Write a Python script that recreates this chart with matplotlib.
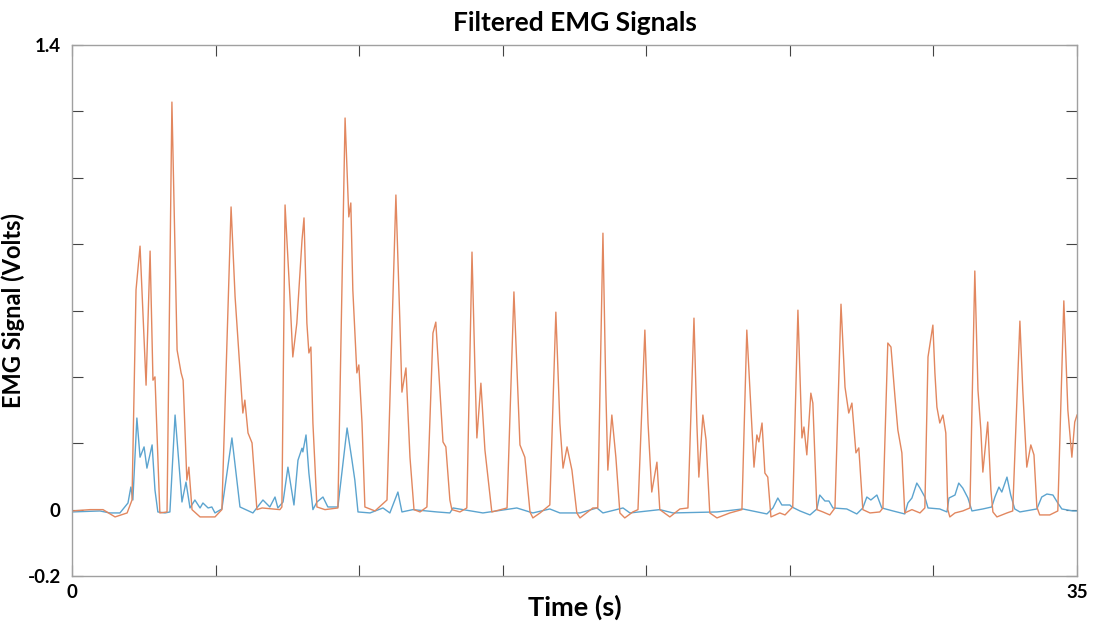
import numpy as np
import matplotlib
matplotlib.use("Agg")
import matplotlib.pyplot as plt

plt.rcParams['font.family'] = ['Lato', 'DejaVu Sans']

# readings from the reference trace (time in s, signal in volts)
orange_t = [0.00, 0.63, 1.08, 1.50, 1.92, 2.09, 2.23, 2.37, 2.58, 2.72, 2.82, 2.89, 3.06, 3.31,
            3.48, 3.66, 3.80, 3.87, 4.00, 4.07, 4.18, 4.46, 4.98, 5.22, 5.54, 5.68, 5.95, 6.02,
            6.13, 6.27, 6.44, 6.62, 7.24, 7.31, 7.42, 7.59, 7.69, 7.83, 8.01, 8.08, 8.18, 8.25,
            8.32, 8.39, 8.53, 8.81, 9.26, 9.51, 9.64, 9.71, 9.78, 9.92, 9.99, 10.10, 10.20,
            10.55, 10.97, 11.28, 11.42, 11.49, 11.63, 11.77, 11.91, 12.12, 12.36, 12.57, 12.67,
            12.81, 12.92, 13.02, 13.16, 13.23, 13.51, 13.75, 13.93, 14.03, 14.10, 14.24, 14.38,
            14.62, 15.15, 15.39, 15.60, 15.77, 15.95, 16.05, 16.30, 16.64, 16.85, 16.99, 17.10,
            17.24, 17.41, 17.58, 17.69, 18.14, 18.31, 18.49, 18.59, 18.66, 18.80, 18.94, 19.08,
            19.25, 19.53, 19.71, 19.95, 20.06, 20.19, 20.37, 20.47, 20.82, 21.17, 21.45, 21.66,
            21.76, 21.83, 21.97, 22.08, 22.21, 22.46, 22.91, 23.33, 23.50, 23.64, 23.75, 23.85,
            23.92, 24.03, 24.13, 24.23, 24.34, 24.65, 24.83, 25.10, 25.28, 25.42, 25.49, 25.59,
            25.73, 25.80, 25.94, 26.15, 26.39, 26.57, 26.78, 26.92, 27.05, 27.16, 27.30, 27.40,
            27.54, 27.79, 28.13, 28.24, 28.41, 28.52, 28.66, 28.76, 28.90, 29.00, 29.25, 29.53,
            29.70, 29.81, 29.98, 30.05, 30.12, 30.22, 30.33, 30.43, 30.50, 30.57, 30.75, 31.02,
            31.27, 31.44, 31.55, 31.65, 31.72, 31.89, 32.00, 32.07, 32.21, 32.56, 32.76, 33.01,
            33.11, 33.25, 33.39, 33.50, 33.60, 33.70, 34.05, 34.33, 34.54, 34.68, 34.82, 34.92,
            35.00]
orange_v = [-0.004, 0.0, 0.0, -0.022, -0.010, 0.029, 0.662, 0.794, 0.375, 0.779, 0.390, 0.400,
            -0.010, -0.007, 1.228, 0.481, 0.412, 0.390, 0.089, 0.128, 0.0, -0.022, -0.022, 0.0,
            0.912, 0.641, 0.291, 0.330, 0.231, 0.201, 0.0, 0.005, 0.0, 0.008, 0.918, 0.641,
            0.460, 0.562, 0.812, 0.879, 0.562, 0.472, 0.490, 0.261, 0.008, 0.0, 0.005, 1.180,
            0.882, 0.924, 0.662, 0.412, 0.436, 0.261, 0.008, -0.004, 0.029, 0.948, 0.562, 0.354,
            0.427, 0.158, 0.0, -0.007, 0.008, 0.532, 0.565, 0.360, 0.204, 0.189, 0.029, 0.0,
            -0.007, 0.005, 0.776, 0.430, 0.216, 0.381, 0.180, -0.007, 0.005, 0.656, 0.195, 0.158,
            -0.007, -0.025, -0.010, 0.014, 0.595, 0.261, 0.125, 0.189, 0.119, -0.010, -0.025,
            0.005, 0.005, 0.833, 0.360, 0.119, 0.285, 0.158, -0.010, -0.025, -0.007, 0.0, 0.541,
            0.261, 0.053, 0.143, 0.0, -0.022, 0.002, 0.005, 0.577, 0.261, 0.098, 0.285, 0.210,
            -0.010, -0.025, -0.010, 0.0, 0.541, 0.309, 0.128, 0.225, 0.204, 0.261, 0.110, 0.098,
            -0.022, -0.010, -0.016, 0.008, 0.601, 0.216, 0.249, 0.165, 0.351, 0.321, 0.0, -0.007,
            -0.016, 0.005, 0.619, 0.369, 0.291, 0.321, 0.171, 0.186, 0.0, -0.010, -0.007, 0.005,
            0.502, 0.490, 0.339, 0.240, 0.171, -0.010, 0.0, -0.010, 0.005, 0.460, 0.556, 0.412,
            0.309, 0.261, 0.285, 0.231, 0.0, -0.022, -0.010, -0.004, 0.005, 0.719, 0.360, 0.240,
            0.113, 0.264, 0.059, -0.007, -0.022, -0.010, -0.004, 0.568, 0.360, 0.128, 0.195,
            0.165, 0.008, -0.016, -0.016, -0.004, 0.629, 0.300, 0.158, 0.264, 0.285]

blue_t = [0.00, 0.97, 1.32, 1.67, 1.95, 2.05, 2.12, 2.26, 2.37, 2.51, 2.61, 2.79, 2.89, 2.99,
          3.24, 3.41, 3.59, 3.83, 3.97, 4.11, 4.28, 4.46, 4.56, 4.74, 4.87, 4.98, 5.22, 5.57,
          5.85, 6.30, 6.65, 6.89, 7.07, 7.17, 7.35, 7.52, 7.73, 7.87, 8.01, 8.04, 8.15, 8.25,
          8.39, 8.53, 8.74, 8.91, 9.26, 9.58, 9.75, 9.85, 9.96, 10.38, 10.83, 11.07, 11.35,
          11.49, 11.87, 12.71, 13.16, 13.27, 14.31, 15.49, 16.05, 16.64, 16.99, 17.69, 18.28,
          18.49, 19.19, 19.43, 20.47, 20.93, 22.46, 23.36, 24.20, 24.41, 24.58, 24.72, 25.00,
          25.07, 25.35, 25.70, 25.94, 26.04, 26.22, 26.36, 26.50, 26.98, 27.33, 27.54, 27.68,
          27.82, 28.03, 28.20, 28.59, 29.00, 29.11, 29.25, 29.42, 29.53, 29.70, 29.81, 30.22,
          30.47, 30.54, 30.75, 30.88, 31.02, 31.20, 31.34, 31.72, 32.03, 32.14, 32.28, 32.38,
          32.56, 32.69, 32.83, 33.01, 33.60, 33.77, 33.95, 34.16, 34.33, 34.47, 34.85, 35.00]
blue_v = [-0.007, -0.004, -0.010, -0.010, 0.020, 0.068, 0.029, 0.276, 0.158, 0.189, 0.125,
          0.195, 0.059, -0.007, -0.010, -0.007, 0.285, 0.023, 0.083, 0.005, 0.029, 0.005, 0.020,
          0.005, 0.008, -0.010, 0.002, 0.216, 0.008, -0.010, 0.029, 0.008, 0.038, 0.005, 0.023,
          0.128, 0.014, 0.149, 0.185, 0.174, 0.225, 0.110, 0.0, 0.023, 0.038, 0.008, 0.008,
          0.246, 0.149, 0.089, -0.007, -0.010, 0.005, -0.010, 0.053, -0.007, 0.0, -0.007, -0.010,
          0.005, -0.010, 0.005, -0.010, 0.002, -0.010, -0.010, 0.005, -0.010, 0.005, -0.010, 0.0,
          -0.010, -0.007, 0.002, -0.013, 0.005, 0.035, 0.014, 0.014, 0.008, -0.004, -0.016,
          0.002, 0.044, 0.026, 0.026, 0.005, 0.002, -0.013, 0.005, 0.038, 0.029, 0.044, 0.005,
          -0.004, -0.013, 0.020, 0.035, 0.080, 0.065, 0.038, 0.005, 0.002, -0.007, 0.035, 0.044,
          0.080, 0.065, 0.035, -0.004, 0.002, 0.008, 0.038, 0.068, 0.053, 0.098, 0.044, 0.002,
          -0.007, 0.002, 0.038, 0.047, 0.044, 0.020, 0.002, -0.004, -0.004]

x_ticks = [0, 5, 10, 15, 20, 25, 30, 35]
x_tick_labels = ['0', '', '', '', '', '', '', '35']
y_ticks = [-0.2, 0, 0.2, 0.4, 0.6, 0.8, 1.0, 1.2, 1.4]
y_tick_labels = ['-0.2', '0', '', '', '', '', '', '', '1.4']

fig = plt.figure(figsize=(10.94, 6.25), dpi=100)
ax = fig.add_axes([0.0658, 0.0784, 0.9187, 0.8496])

ax.plot(blue_t, blue_v, color='#5ca4cf', lw=1.0)
ax.plot(orange_t, orange_v, color='#e2875f', lw=1.0)

ax.set_xlim(0, 35)
ax.set_ylim(-0.2, 1.4)
ax.set_xticks(x_ticks)
ax.set_xticklabels(x_tick_labels)
ax.set_yticks(y_ticks)
ax.set_yticklabels(y_tick_labels)
ax.tick_params(direction='in', length=8, width=0.8, color='#444444',
               top=True, right=True, labelsize=13.5)
ax.tick_params(axis='x', pad=6)
ax.tick_params(axis='y', pad=8)
for lab in ax.get_xticklabels() + ax.get_yticklabels():
    lab.set_fontweight('bold')
for s in ax.spines.values():
    s.set_color('#a0a0a0')
    s.set_linewidth(1.0)

ax.set_title('Filtered EMG Signals', fontsize=19, fontweight='bold', pad=10)
ax.set_xlabel('Time (s)', fontsize=19.5, fontweight='bold', labelpad=-5)
ax.set_ylabel('EMG Signal (Volts)', fontsize=17, fontweight='bold', labelpad=2)

fig.savefig('out.png', dpi=100)
